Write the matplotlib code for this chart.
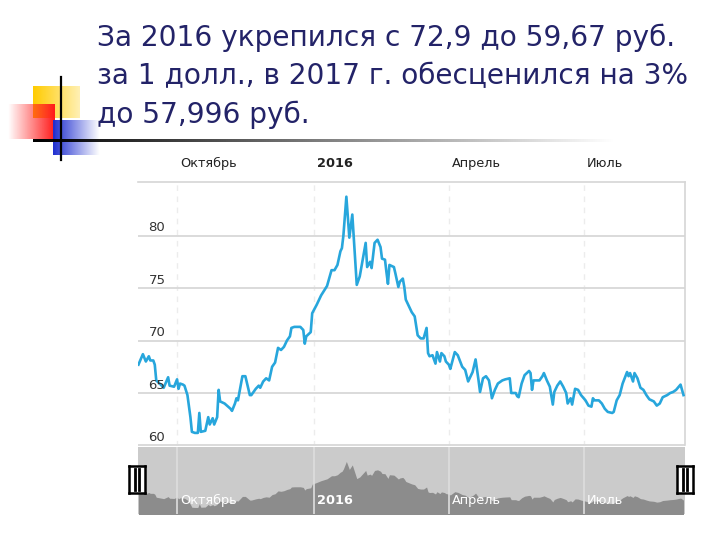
import numpy as np
import pandas as pd
import matplotlib
matplotlib.use("Agg")
import matplotlib.pyplot as plt
import matplotlib.dates as mdates
from matplotlib.colors import to_rgb

# ------------- data (USD/RUB) -------------
dates = [
    "2015-09-05", "2015-09-08", "2015-09-10", "2015-09-12", "2015-09-13", "2015-09-15",
    "2015-09-16", "2015-09-17", "2015-09-20", "2015-09-22", "2015-09-25", "2015-09-26",
    "2015-09-29", "2015-10-01", "2015-10-02", "2015-10-03", "2015-10-05", "2015-10-06",
    "2015-10-08", "2015-10-10", "2015-10-11", "2015-10-13", "2015-10-15", "2015-10-16",
    "2015-10-17", "2015-10-20", "2015-10-22", "2015-10-23", "2015-10-25", "2015-10-26",
    "2015-10-28", "2015-10-29", "2015-10-30", "2015-11-02", "2015-11-06", "2015-11-07",
    "2015-11-09", "2015-11-10", "2015-11-11", "2015-11-14", "2015-11-16", "2015-11-19",
    "2015-11-20", "2015-11-23", "2015-11-25", "2015-11-26", "2015-11-28", "2015-11-30",
    "2015-12-02", "2015-12-04", "2015-12-06", "2015-12-08", "2015-12-10", "2015-12-12",
    "2015-12-14", "2015-12-16", "2015-12-17", "2015-12-19", "2015-12-23", "2015-12-25",
    "2015-12-26", "2015-12-27", "2015-12-30", "2015-12-31", "2016-01-03", "2016-01-06",
    "2016-01-10", "2016-01-13", "2016-01-15", "2016-01-17", "2016-01-19", "2016-01-20",
    "2016-01-21", "2016-01-23", "2016-01-25", "2016-01-27", "2016-01-30", "2016-02-01",
    "2016-02-03", "2016-02-05", "2016-02-06", "2016-02-08", "2016-02-09", "2016-02-11",
    "2016-02-13", "2016-02-15", "2016-02-16", "2016-02-18", "2016-02-19", "2016-02-20",
    "2016-02-21", "2016-02-24", "2016-02-25", "2016-02-27", "2016-02-28", "2016-03-01",
    "2016-03-02", "2016-03-03", "2016-03-05", "2016-03-07", "2016-03-09", "2016-03-11",
    "2016-03-13", "2016-03-15", "2016-03-17", "2016-03-18", "2016-03-19", "2016-03-21",
    "2016-03-23", "2016-03-24", "2016-03-26", "2016-03-27", "2016-03-29", "2016-03-30",
    "2016-04-01", "2016-04-02", "2016-04-05", "2016-04-07", "2016-04-10", "2016-04-12",
    "2016-04-14", "2016-04-16", "2016-04-17", "2016-04-19", "2016-04-21", "2016-04-22",
    "2016-04-24", "2016-04-26", "2016-04-28", "2016-04-29", "2016-04-30", "2016-05-02",
    "2016-05-04", "2016-05-07", "2016-05-09", "2016-05-12", "2016-05-13", "2016-05-16",
    "2016-05-17", "2016-05-18", "2016-05-20", "2016-05-22", "2016-05-25", "2016-05-26",
    "2016-05-27", "2016-05-28", "2016-05-30", "2016-06-01", "2016-06-03", "2016-06-04",
    "2016-06-06", "2016-06-08", "2016-06-10", "2016-06-11", "2016-06-13", "2016-06-15",
    "2016-06-17", "2016-06-19", "2016-06-20", "2016-06-22", "2016-06-23", "2016-06-25",
    "2016-06-27", "2016-06-29", "2016-07-02", "2016-07-04", "2016-07-06", "2016-07-07",
    "2016-07-08", "2016-07-11", "2016-07-13", "2016-07-15", "2016-07-17", "2016-07-20",
    "2016-07-21", "2016-07-23", "2016-07-25", "2016-07-27", "2016-07-30", "2016-07-31",
    "2016-08-01", "2016-08-03", "2016-08-04", "2016-08-06", "2016-08-08", "2016-08-10",
    "2016-08-12", "2016-08-14", "2016-08-17", "2016-08-19", "2016-08-21", "2016-08-23",
    "2016-08-26", "2016-08-28", "2016-08-30", "2016-09-01", "2016-09-04", "2016-09-05",
    "2016-09-06",
]
rates = [
    67.7, 68.7, 68.0, 68.5, 68.1, 68.1,
    67.7, 66.2, 65.8, 65.5, 66.5, 65.7,
    65.6, 66.3, 65.4, 65.9, 65.8, 65.7,
    64.8, 62.7, 61.3, 61.2, 61.2, 63.1,
    61.3, 61.4, 62.7, 62.0, 62.6, 62.0,
    62.7, 65.3, 64.2, 64.0, 63.5, 63.3,
    64.0, 64.5, 64.3, 66.6, 66.6, 64.8,
    64.8, 65.4, 65.7, 65.5, 66.1, 66.4,
    66.2, 67.5, 67.9, 69.3, 69.1, 69.4,
    70.0, 70.4, 71.2, 71.3, 71.3, 71.0,
    69.7, 70.4, 70.8, 72.6, 73.4, 74.3,
    75.2, 76.7, 76.7, 77.2, 78.5, 78.8,
    80.0, 83.7, 79.8, 82.0, 75.3, 76.1,
    77.7, 79.3, 77.0, 77.5, 76.9, 79.3,
    79.6, 78.9, 77.8, 77.7, 76.5, 75.4,
    77.2, 77.0, 76.4, 75.1, 75.6, 75.9,
    75.1, 73.9, 73.3, 72.7, 72.3, 70.5,
    70.2, 70.2, 71.2, 68.8, 68.5, 68.6,
    67.8, 68.9, 68.0, 68.8, 68.5, 68.0,
    67.7, 67.3, 68.9, 68.6, 67.5, 67.2,
    66.1, 66.7, 67.0, 68.2, 66.2, 65.1,
    66.4, 66.6, 66.2, 65.4, 64.5, 65.3,
    65.9, 66.2, 66.3, 66.4, 65.0, 65.0,
    64.7, 64.6, 65.9, 66.7, 67.1, 66.9,
    65.3, 66.2, 66.2, 66.2, 66.6, 66.9,
    66.2, 65.6, 63.9, 65.1, 65.7, 66.1,
    65.6, 65.0, 64.0, 64.5, 63.9, 65.4,
    65.3, 64.8, 64.3, 63.8, 63.7, 64.5,
    64.3, 64.3, 64.0, 63.5, 63.2, 63.1,
    63.2, 64.3, 64.8, 65.9, 67.0, 66.6,
    66.9, 66.1, 66.9, 66.4, 65.5, 65.3,
    64.8, 64.4, 64.2, 63.8, 64.0, 64.6,
    64.8, 65.0, 65.1, 65.3, 65.8, 65.3,
    64.8,
]
month_ticks = ["2015-10-01", "2016-01-01", "2016-04-01", "2016-07-01"]
month_labels = ["Октябрь", "2016", "Апрель", "Июль"]
y_ticks = [60, 65, 70, 75, 80]
view = ["2015-09-04 17:00", "2016-09-07 00:00"]

title_lines = [
    "За 2016 укрепился с 72,9 до 59,67 руб.",
    "за 1 долл., в 2017 г. обесценился на 3%",
    "до 57,996 руб.",
]

x = mdates.date2num(pd.to_datetime(dates))
ticks = mdates.date2num(pd.to_datetime(month_ticks))
xlim = mdates.date2num(pd.to_datetime(view, format='ISO8601'))

W, H = 720, 540
fig = plt.figure(figsize=(7.2, 5.4), dpi=100)
plt.rcParams['font.family'] = ['DejaVu Sans']


def fig_rect(l, t, r, b):
    return [l / W, 1 - b / H, (r - l) / W, (b - t) / H]


# ------------- slide decoration -------------
deco = fig.add_axes([0, 0, 1, 1], zorder=0)
deco.axis('off')


def grad(color, l, t, r, b, fade='right', start=0.0):
    n = 64
    ramp = np.linspace(1, start, n) if fade == 'right' else np.linspace(start, 1, n)
    img = np.zeros((2, n, 4))
    img[..., :3] = to_rgb(color)
    img[..., 3] = ramp
    deco.imshow(img, extent=[l, r, b, t], aspect='auto', interpolation='bilinear')


grad('#ffcc00', 33, 86, 80, 118, fade='right', start=0.3)
grad('#ff1a1a', 8, 104, 55, 139, fade='left', start=0.0)
grad('#1f2fd0', 53, 120, 100, 155, fade='right', start=0.0)
deco.plot([61, 61], [77, 160], color='black', lw=1.6)
grad('#000000', 33, 140, 620, 142.5, fade='right', start=0.0)
deco.set_xlim(0, W)
deco.set_ylim(H, 0)

for i, line in enumerate(title_lines):
    fig.text(97 / W, 1 - (46 + 38.5 * i) / H, line, fontsize=20.2, color='#232368',
             family='DejaVu Sans', va='baseline', ha='left')

# ------------- main chart -------------
ax = fig.add_axes(fig_rect(138, 182, 685, 445.5), zorder=2)
ax.set_facecolor('none')
ax.plot(x, rates, color='#27a6dc', lw=1.9, solid_joinstyle='round', zorder=3)
ax.set_xlim(xlim[0], xlim[1])
ax.set_ylim(60, 85.1)
for v in y_ticks:
    ax.axhline(v, color='#dadada', lw=1.4, zorder=1)
    ax.annotate(str(v), (0, v), xycoords=ax.get_yaxis_transform(),
                xytext=(7.5, 1), textcoords='offset points', ha='left', va='bottom',
                fontsize=9.5, color='#333333', zorder=4)
for t, lab in zip(ticks, month_labels):
    ax.axvline(t, color='#ececec', lw=1, ls=(0, (4, 4)), zorder=0)
    ax.annotate(lab, (t, 1), xycoords=ax.get_xaxis_transform(),
                xytext=(2.2, 13.5), textcoords='offset points', ha='left', va='center',
                fontsize=9.3, color='#222222',
                fontweight='bold' if lab == '2016' else 'normal')
for s in ['left', 'bottom']:
    ax.spines[s].set_visible(False)
for s in ['top', 'right']:
    ax.spines[s].set_color('#d6d6d6')
    ax.spines[s].set_linewidth(1.2)
ax.set_xticks([])
ax.set_yticks([])

# ------------- navigator -------------
nav = fig.add_axes(fig_rect(138, 446.5, 685, 514), zorder=2)
nav.set_facecolor('#cbcbcb')
nav.fill_between(x, rates, 50, color='#8c8c8c', lw=0)
nav.set_xlim(xlim[0], xlim[1])
nav.set_ylim(58, 91)
for t, lab in zip(ticks, month_labels):
    nav.axvline(t, color='#dedede', lw=1.2)
    nav.annotate(lab, (t, 0), xycoords=nav.get_xaxis_transform(),
                 xytext=(2.2, 9.5), textcoords='offset points', ha='left', va='center',
                 fontsize=9.3, color='white',
                 fontweight='bold' if lab == '2016' else 'normal')
for s in nav.spines.values():
    s.set_visible(False)
nav.set_xticks([])
nav.set_yticks([])

# scroll handles
for left in (129, 677):
    h = fig.add_axes(fig_rect(left, 466, left + 16, 493), zorder=5)
    h.set_facecolor('white')
    h.set_xlim(0, 1)
    h.set_ylim(0, 1)
    h.plot([0.36, 0.36], [0.12, 0.88], color='black', lw=2)
    h.plot([0.64, 0.64], [0.12, 0.88], color='black', lw=2)
    for s in h.spines.values():
        s.set_color('black')
        s.set_linewidth(1.8)
    h.set_xticks([])
    h.set_yticks([])

fig.savefig('out.png', dpi=100)
